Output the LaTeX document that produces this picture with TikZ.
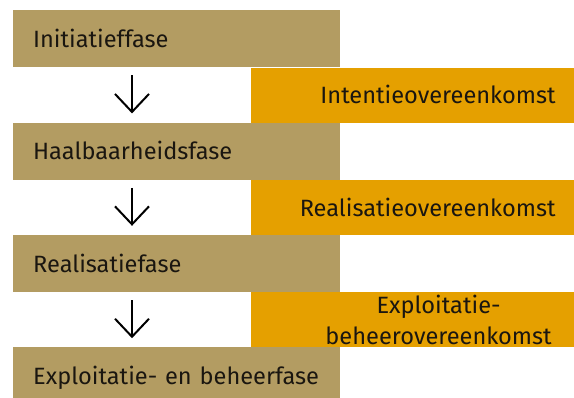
\documentclass[tikz,border=0pt]{standalone}
\usepackage{fontspec}
\setmainfont{Fira Sans}
\usepackage{xcolor}
\usetikzlibrary{positioning, arrows.meta}
\definecolor{fasetan}{HTML}{B39C62}
\definecolor{dealorange}{HTML}{E5A000}
\definecolor{textdark}{HTML}{1A1610}

\begin{document}
\begin{tikzpicture}[
  x=1pt, y=-1pt,
  node distance=55pt,
  phase/.style={rectangle, fill=fasetan, minimum width=327pt, minimum height=57pt, inner xsep=20pt, inner ysep=0pt,
    text width=287pt, align=left, text height=17pt, text depth=0pt, font=\fontsize{23.6}{28}\selectfont, text=textdark},
  deal/.style={rectangle, fill=dealorange, minimum width=324pt, minimum height=55pt, inner xsep=19pt, inner ysep=0pt,
    text width=286pt, align=right, text height=17pt, text depth=0pt, font=\fontsize{23.6}{28}\selectfont, text=textdark},
  flow/.style={-{Straight Barb[length=18pt, width=34pt]}, line width=2pt, color=black},
]
\useasboundingbox (0,0) rectangle (574,397);
\clip (0,0) rectangle (574,397);

% fasen
\node[phase, anchor=north west] (init) at (13,10) {Initiatieffase};
\node[phase, below=of init] (haal) {Haalbaarheidsfase};
\node[phase, below=of haal] (real) {Realisatiefase};
\node[phase, below=of real] (expl) {Exploitatie- en beheerfase};

% overeenkomsten
\node[deal, below right=0pt and -90pt of init] (intdeal) {Intentieovereenkomst};
\node[deal, below right=0pt and -90pt of haal] (realdeal) {Realisatieovereenkomst};
\node[deal, below right=0pt and -90pt of real] (expldeal) {};
\node[font=\fontsize{23.6}{31}\selectfont, text=textdark, align=center, inner sep=0pt] (expltext)
  at ([xshift=26pt]expldeal.center) {Exploitatie-\\beheerovereenkomst};

% pijlen
\draw[flow] ([xshift=119pt, yshift=-8pt]init.south west) -- ([xshift=119pt, yshift=9pt]haal.north west);
\draw[flow] ([xshift=119pt, yshift=-8pt]haal.south west) -- ([xshift=119pt, yshift=9pt]real.north west);
\draw[flow] ([xshift=119pt, yshift=-8pt]real.south west) -- ([xshift=119pt, yshift=9pt]expl.north west);
\end{tikzpicture}
\end{document}
